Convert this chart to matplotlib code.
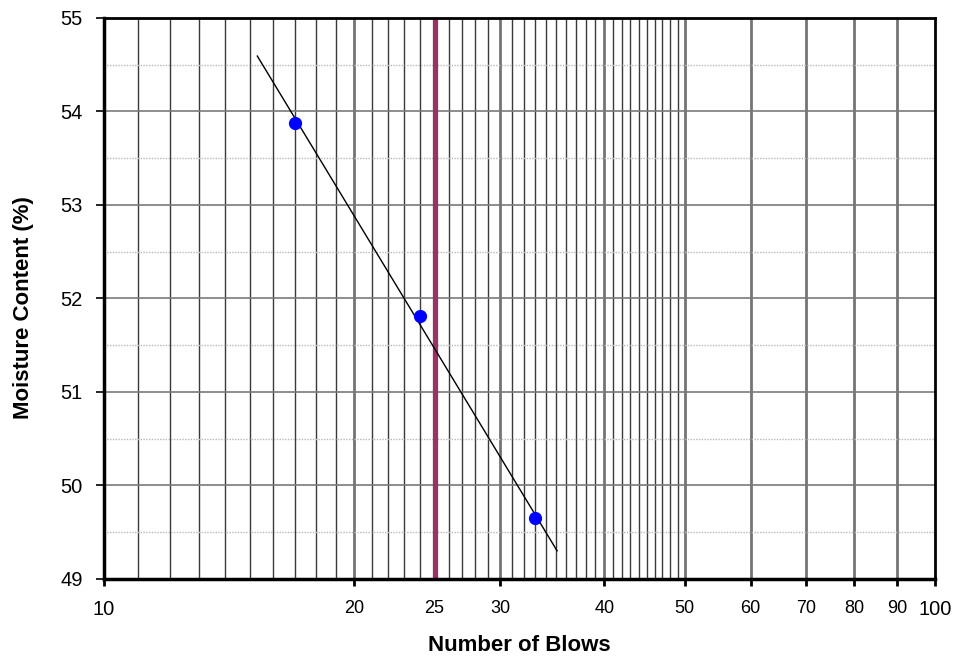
import matplotlib.pyplot as plt
import numpy as np

plt.rcParams["font.family"] = ["Liberation Sans", "DejaVu Sans"]

# liquid limit test points
blows = [17, 24, 33]
moisture = [53.88, 51.81, 49.65]
trend_range = [15.3, 35.1]
liquid_limit_blows = 25

x_tick_vals = [10, 20, 25, 30, 40, 50, 60, 70, 80, 90, 100]
y_ticks = [49, 50, 51, 52, 53, 54, 55]

fig = plt.figure(figsize=(9.61, 6.56), dpi=100)
ax = fig.add_axes([0.108, 0.1174, 0.865, 0.8552])
ax.set_xscale("log")
ax.set_xlim(10, 100)
ax.set_ylim(49, 55)

# vertical grid lines
for v in range(11, 50):
    if v in (20, 30, 40, 25):
        continue
    ax.axvline(v, color="#3a3a3a", lw=1.0, zorder=1)
for v in [20, 30, 40, 50, 60, 70, 80, 90]:
    ax.axvline(v, color="#747474", lw=2.0, zorder=1)

# horizontal grid lines
for y in y_ticks[1:-1]:
    ax.axhline(y, color="#7a7a7a", lw=1.2, zorder=1)
for y in np.arange(49.5, 55, 1.0):
    ax.axhline(y, color="#b8b8b8", lw=1.0, ls=(0, (1, 1)), zorder=1)

ax.axvline(liquid_limit_blows, color="#993366", lw=3.8, zorder=2)

# trend line (semi-log fit)
coef = np.polyfit(np.log10(blows), moisture, 1)
xs = np.array(trend_range)
ax.plot(xs, np.polyval(coef, np.log10(xs)), color="black", lw=1.0, zorder=3)

ax.plot(blows, moisture, "o", color="#0000ff", ms=8.5, zorder=4)

ax.set_xticks(x_tick_vals)
ax.set_xticks([], minor=True)
ax.set_xticklabels([str(v) for v in x_tick_vals])
for lab in ax.get_xticklabels():
    if lab.get_text() in ("10", "100"):
        lab.set_fontsize(14.5)
    else:
        lab.set_fontsize(13)
ax.xaxis.get_major_ticks()[2].tick1line.set_visible(False)
ax.set_yticks(y_ticks)
ax.tick_params(axis="y", labelsize=14.5, direction="out", length=6, width=1.2, pad=9)
ax.tick_params(axis="x", direction="out", length=5, width=2, pad=10)

for side in ["left", "bottom"]:
    ax.spines[side].set_linewidth(2.5)
for side in ["top", "right"]:
    ax.spines[side].set_linewidth(2.0)

ax.set_xlabel("Number of Blows", fontsize=16, fontweight="bold")
ax.xaxis.set_label_coords(0.5, -0.099)
ax.set_ylabel("Moisture Content (%)", fontsize=16, fontweight="bold")
ax.yaxis.set_label_coords(-0.084, 0.483)

fig.savefig("out.png", dpi=100)
